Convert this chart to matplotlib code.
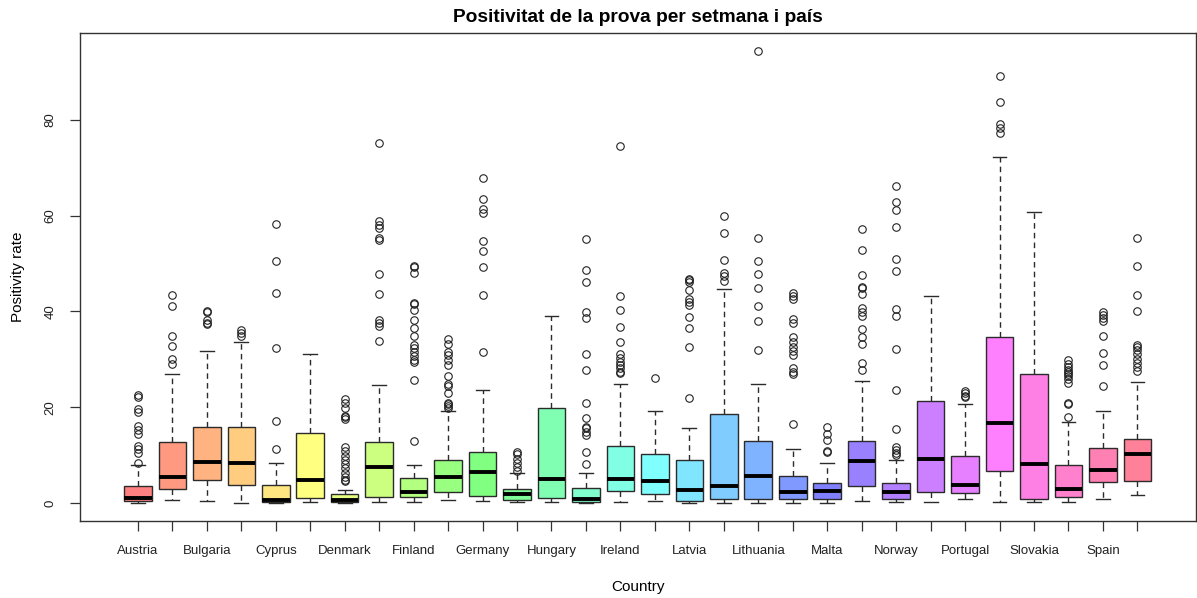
import colorsys
import matplotlib
matplotlib.use("Agg")
import matplotlib.pyplot as plt

plt.rcParams['font.family'] = ['Liberation Sans', 'DejaVu Sans']

countries = ["Austria", "Belgium", "Bulgaria", "Croatia", "Cyprus", "Czechia",
             "Denmark", "Estonia", "Finland", "France", "Germany", "Greece",
             "Hungary", "Iceland", "Ireland", "Italy", "Latvia", "Liechtenstein",
             "Lithuania", "Luxembourg", "Malta", "Netherlands", "Norway", "Poland",
             "Portugal", "Romania", "Slovakia", "Slovenia", "Spain", "Sweden"]

# Five-number summaries of the weekly positivity rate (%) per country
whislo = [0.0, 0.6, 0.5, 0.0, 0.0, 0.1, 0.0, 0.1, 0.1, 0.6,
          0.5, 0.1, 0.1, 0.0, 0.1, 0.4, 0.0, 0.0, 0.0, 0.0,
          0.0, 0.5, 0.1, 0.1, 0.8, 0.1, 0.1, 0.1, 0.8, 1.7]
q1 = [0.4, 2.9, 4.7, 3.8, 0.3, 1.0, 0.3, 1.3, 1.2, 2.2,
      1.5, 0.6, 1.0, 0.3, 2.4, 1.9, 0.4, 0.8, 0.8, 0.8,
      0.8, 3.5, 0.8, 2.2, 2.0, 6.7, 0.8, 1.3, 4.3, 4.6]
median = [1.1, 5.4, 8.5, 8.3, 0.6, 4.7, 0.6, 7.6, 2.3, 5.5,
          6.4, 1.9, 4.9, 0.8, 5.0, 4.6, 2.6, 3.5, 5.7, 2.2,
          2.5, 8.8, 2.2, 9.2, 3.8, 16.6, 8.1, 2.9, 6.9, 10.3]
q3 = [3.5, 12.8, 15.8, 15.8, 3.7, 14.5, 1.8, 12.8, 5.2, 9.0,
      10.6, 2.9, 19.8, 3.1, 11.8, 10.2, 9.0, 18.5, 13.0, 5.7,
      4.1, 13.0, 4.1, 21.2, 9.9, 34.6, 27.0, 7.9, 11.5, 13.4]
whishi = [7.9, 26.9, 31.7, 33.5, 8.4, 31.1, 2.7, 24.6, 7.9, 19.1,
          23.6, 6.3, 39.1, 6.2, 24.8, 19.1, 15.7, 44.6, 24.8, 11.3,
          8.4, 25.5, 9.0, 43.1, 20.7, 72.3, 60.8, 17.0, 19.2, 25.2]

# Outlying weeks per country
outliers = [
    [22.5, 22.2, 19.6, 18.9, 16.1, 15.2, 14.4, 11.8, 11.2, 10.5, 8.4],
    [43.4, 41.2, 34.9, 32.8, 30.1, 29.0],
    [40.1, 39.8, 38.1, 37.6, 37.3],
    [36.0, 35.4, 34.9],
    [58.2, 50.5, 43.9, 32.3, 17.2, 11.3],
    [],
    [21.7, 20.8, 19.9, 18.2, 17.9, 17.5, 11.6, 10.9, 9.9, 9.0, 8.2, 7.2, 6.2, 5.5, 4.8, 4.5],
    [75.2, 58.9, 58.0, 57.3, 55.3, 54.8, 47.7, 43.6, 38.2, 37.5, 37.0, 33.9],
    [49.5, 49.2, 48.0, 41.8, 41.5, 40.3, 38.2, 36.5, 34.9, 33.0, 32.3, 31.6, 30.7,
     29.9, 29.4, 25.7, 12.9],
    [34.2, 33.2, 31.6, 30.9, 29.9, 28.8, 26.6, 24.8, 24.4, 22.9, 20.9, 20.7, 20.3, 19.9],
    [67.8, 63.5, 61.4, 60.5, 54.7, 52.5, 49.2, 43.4, 31.6],
    [10.6, 10.2, 9.2, 8.4, 7.6, 6.7],
    [],
    [55.0, 48.7, 46.1, 39.8, 38.7, 31.0, 27.8, 20.9, 17.7, 15.9, 15.6, 14.9, 14.2, 10.7, 8.1],
    [74.6, 43.1, 40.3, 36.7, 33.5, 31.1, 30.2, 29.5, 28.8, 28.1, 27.4, 27.1],
    [26.0],
    [46.8, 46.5, 46.2, 44.5, 42.6, 41.9, 41.3, 38.8, 36.6, 32.6, 21.9],
    [60.0, 56.4, 50.7, 48.0, 47.3, 46.4],
    [94.3, 55.3, 50.5, 47.7, 44.9, 41.2, 37.9, 31.9],
    [43.8, 43.1, 42.6, 38.3, 37.5, 34.6, 33.7, 32.6, 31.7, 30.8, 28.1, 27.3, 26.9, 16.4],
    [15.9, 14.3, 13.2, 10.9, 10.6],
    [57.2, 52.7, 47.6, 45.0, 44.9, 43.6, 40.6, 39.9, 39.1, 36.3, 34.7, 33.1, 29.2, 27.8],
    [66.2, 62.8, 61.1, 57.6, 50.9, 48.4, 40.4, 39.0, 32.1, 23.5, 15.4, 11.6, 11.1, 10.5, 10.0],
    [],
    [23.4, 22.9, 22.4, 22.1],
    [89.1, 83.6, 79.1, 78.2, 77.3],
    [],
    [29.9, 29.0, 28.3, 27.8, 27.3, 26.9, 26.4, 25.8, 25.1, 20.9, 20.7, 17.9],
    [39.9, 39.2, 38.6, 37.9, 34.9, 31.4, 28.8, 24.4],
    [55.3, 49.4, 43.4, 40.1, 32.9, 32.6, 31.9, 31.1, 30.1, 29.2, 28.3, 27.6],
]

n = len(countries)
positions = list(range(1, n + 1))

# Pastel rainbow palette (full-saturation hues blended half-way with white)
colors = []
for i in range(n):
    r, g, b = colorsys.hsv_to_rgb(i / n, 1.0, 1.0)
    colors.append(((r + 1) / 2, (g + 1) / 2, (b + 1) / 2))

stats = []
for i in range(n):
    stats.append(dict(med=median[i], q1=q1[i], q3=q3[i],
                      whislo=whislo[i], whishi=whishi[i], fliers=outliers[i]))

fig = plt.figure(figsize=(11.97, 5.98), dpi=100)
ax = fig.add_axes([80 / 1197, 1 - 521 / 598, 1116 / 1197, 488 / 598])

edge = '#2b2b2b'
bp = ax.bxp(stats, positions=positions, widths=0.8, patch_artist=True,
            showfliers=True,
            boxprops=dict(edgecolor=edge, linewidth=1.0),
            medianprops=dict(color='black', linewidth=2.8, solid_capstyle='butt'),
            whiskerprops=dict(color=edge, linewidth=1.0, linestyle=(0, (4, 3))),
            capprops=dict(color=edge, linewidth=1.0),
            capwidths=0.4,
            flierprops=dict(marker='o', markerfacecolor='none',
                            markeredgecolor='#222222', markersize=5.4,
                            markeredgewidth=0.8, linestyle='none'))
for patch, c in zip(bp['boxes'], colors):
    patch.set_facecolor(c)

ax.set_xlim(-0.68, n + 1.7)
ax.set_ylim(-3.77, 98.1)

ax.set_xticks(positions)
ax.set_xticklabels([c if i % 2 == 0 else '' for i, c in enumerate(countries)],
                   fontsize=9.5, color='#222222')
ax.set_yticks([0, 20, 40, 60, 80])
ax.set_yticklabels(['0', '20', '40', '60', '80'], rotation=90, va='center',
                   fontsize=9.5, color='#222222')
ax.tick_params(axis='x', length=7, width=0.9, color='#333333', pad=10)
ax.tick_params(axis='y', length=7, width=0.9, color='#333333', pad=10)

for s in ax.spines.values():
    s.set_color('#333333')
    s.set_linewidth(1.0)

ax.set_title('Positivitat de la prova per setmana i país', fontsize=13.8,
             fontweight='bold', pad=8)
ax.set_xlabel('Country', fontsize=11, labelpad=17)
ax.set_ylabel('Positivity rate', fontsize=11, labelpad=14)

fig.savefig('out.png', dpi=100)
